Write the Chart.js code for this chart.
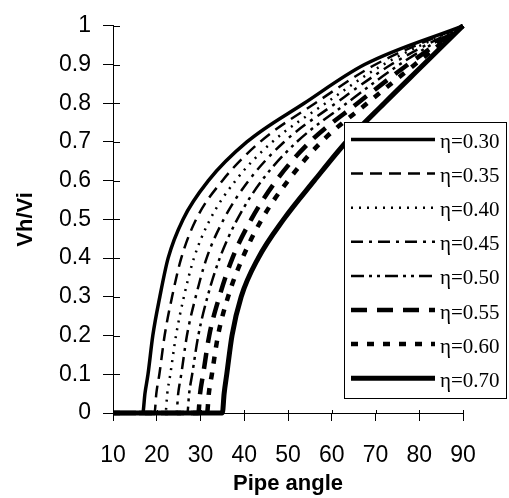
<!DOCTYPE html>
<html>
<head>
<meta charset="utf-8">
<script src="https://cdn.jsdelivr.net/npm/chart.js@4"></script>
<style>
  html, body { margin: 0; padding: 0; background: #fff; }
  #grafico { display: block; }
</style>
</head>
<body>
<canvas id="grafico" width="509" height="498"></canvas>
<script>
// Valores: ângulo do tubo para cada nível de Vh/Vi
const niveisVhVi = [0, 0.05, 0.1, 0.2, 0.3, 0.4, 0.5, 0.6, 0.7, 0.8, 0.9, 1];
const anguloInicial = 10;

const eta30 = [16.8, 17.3, 18.0, 19.1, 20.7, 22.6, 26.0, 31.8, 40.6, 53.7, 67.5, 90];
const eta35 = [19.5, 19.9, 20.6, 21.8, 23.5, 25.6, 29.0, 35.0, 43.6, 56.2, 70.0, 90];
const eta40 = [22.0, 22.4, 23.1, 24.4, 26.2, 28.5, 32.2, 38.0, 46.4, 58.6, 71.8, 90];
const eta45 = [24.5, 24.9, 25.6, 26.9, 28.9, 31.4, 35.3, 41.0, 49.1, 60.9, 73.6, 90];
const eta50 = [27.0, 27.4, 28.1, 29.5, 31.6, 34.4, 38.4, 44.0, 52.0, 63.4, 75.5, 90];
const eta55 = [29.5, 29.9, 30.6, 32.0, 34.3, 37.3, 41.6, 47.3, 55.0, 65.9, 77.4, 90];
const eta60 = [31.5, 31.9, 32.6, 34.0, 36.3, 39.6, 44.0, 50.0, 57.6, 68.1, 79.0, 90];
const eta70 = [35.0, 35.4, 36.0, 37.2, 39.3, 43.2, 49.0, 56.0, 63.3, 72.0, 81.0, 90];

const legendas = ['η=0.30', 'η=0.35', 'η=0.40', 'η=0.45', 'η=0.50', 'η=0.55', 'η=0.60', 'η=0.70'];
const ticksX = [10, 20, 30, 40, 50, 60, 70, 80, 90];
const ticksY = [0, 0.1, 0.2, 0.3, 0.4, 0.5, 0.6, 0.7, 0.8, 0.9, 1];

// estilo de cada curva: [espessura, tracejado]
const estilos = [
    [3.5, []],
    [2.5, [12, 7]],
    [2.5, [2, 6]],
    [2.5, [12, 6, 3, 6]],
    [2.5, [13, 5, 3, 5, 3, 5]],
    [4.5, [16, 10]],
    [4.5, [7, 9]],
    [5, []]
];

const montarPontos = (angulos) =>
    [{ x: anguloInicial, y: 0 }, ...angulos.map((a, i) => ({ x: a, y: niveisVhVi[i] }))];

const series = [eta30, eta35, eta40, eta45, eta50, eta55, eta60, eta70];

const datasets = series.map((s, i) => ({
    label: legendas[i],
    data: montarPontos(s),
    borderColor: '#000',
    borderWidth: estilos[i][0],
    borderDash: estilos[i][1],
    pointRadius: 0,
    cubicInterpolationMode: 'monotone',
    clip: false,
    fill: false
}));

// marcas de escala que atravessam o eixo (parte interior)
const marcasInteriores = {
    id: 'marcasInteriores',
    afterDatasetsDraw(chart) {
        const { ctx, scales: { x, y } } = chart;
        ctx.save();
        ctx.strokeStyle = '#000';
        ctx.lineWidth = 1;
        ctx.beginPath();
        ticksY.forEach(v => {
            const py = Math.round(y.getPixelForValue(v)) + 0.5;
            ctx.moveTo(x.left, py);
            ctx.lineTo(x.left + 7, py);
        });
        ticksX.forEach(v => {
            const px = Math.round(x.getPixelForValue(v)) + 0.5;
            ctx.moveTo(px, y.bottom);
            ctx.lineTo(px, y.bottom - 3);
        });
        ctx.stroke();
        ctx.restore();
    }
};

// legenda desenhada à mão, com caixa branca por cima das curvas
const legendaCaixa = {
    id: 'legendaCaixa',
    afterDatasetsDraw(chart) {
        const ctx = chart.ctx;
        const caixa = { x: 344.5, y: 122.5, w: 162, h: 276 };
        ctx.save();
        ctx.fillStyle = '#fff';
        ctx.fillRect(caixa.x, caixa.y, caixa.w, caixa.h);
        ctx.strokeStyle = '#000';
        ctx.lineWidth = 1;
        ctx.setLineDash([]);
        ctx.strokeRect(caixa.x, caixa.y, caixa.w, caixa.h);

        const passo = 34.1;
        chart.data.datasets.forEach((ds, i) => {
            const yLinha = 139.5 + i * passo;
            ctx.strokeStyle = '#000';
            ctx.lineWidth = ds.borderWidth;
            ctx.setLineDash(ds.borderDash);
            ctx.beginPath();
            ctx.moveTo(351, yLinha);
            ctx.lineTo(435, yLinha);
            ctx.stroke();

            ctx.setLineDash([]);
            ctx.fillStyle = '#000';
            ctx.font = '21px "Liberation Serif", "Times New Roman", serif';
            ctx.textBaseline = 'middle';
            ctx.textAlign = 'left';
            ctx.fillText(ds.label, 440, yLinha + 3);
        });
        ctx.restore();
    }
};

const fonteTicks = { family: '"Liberation Sans", Arial, sans-serif', size: 23 };
const fonteTitulo = { family: '"Liberation Sans", Arial, sans-serif', size: 22, weight: 'bold' };

new Chart(document.getElementById('grafico'), {
    type: 'line',
    data: { datasets },
    options: {
        responsive: false,
        animation: false,
        layout: { padding: { top: 20, right: 46, left: 0, bottom: 0 } },
        plugins: {
            legend: { display: false },
            tooltip: { enabled: false }
        },
        scales: {
            x: {
                type: 'linear',
                min: 10,
                max: 90,
                afterBuildTicks: (s) => { s.ticks = ticksX.map(v => ({ value: v })); },
                afterFit: (s) => { s.height = 85; },
                ticks: { color: '#000', font: fonteTicks, padding: 21, maxRotation: 0 },
                grid: { drawOnChartArea: false, drawTicks: true, tickLength: 8, color: '#000' },
                border: { display: true, color: '#000', width: 1 },
                title: { display: true, text: 'Pipe angle', color: '#000', font: fonteTitulo, padding: { top: 0, bottom: 1 } }
            },
            y: {
                min: 0,
                max: 1,
                afterBuildTicks: (s) => { s.ticks = ticksY.map(v => ({ value: v })); },
                afterFit: (s) => { s.width = 113; },
                ticks: { color: '#000', font: fonteTicks, padding: 12, callback: (v) => String(Math.round(v * 10) / 10) },
                grid: { drawOnChartArea: false, drawTicks: true, tickLength: 10, color: '#000' },
                border: { display: true, color: '#000', width: 1 },
                title: { display: true, text: 'Vh/Vi', color: '#000', font: fonteTitulo, padding: { top: 13, bottom: 0 } }
            }
        }
    },
    plugins: [marcasInteriores, legendaCaixa]
});
</script>
</body>
</html>
